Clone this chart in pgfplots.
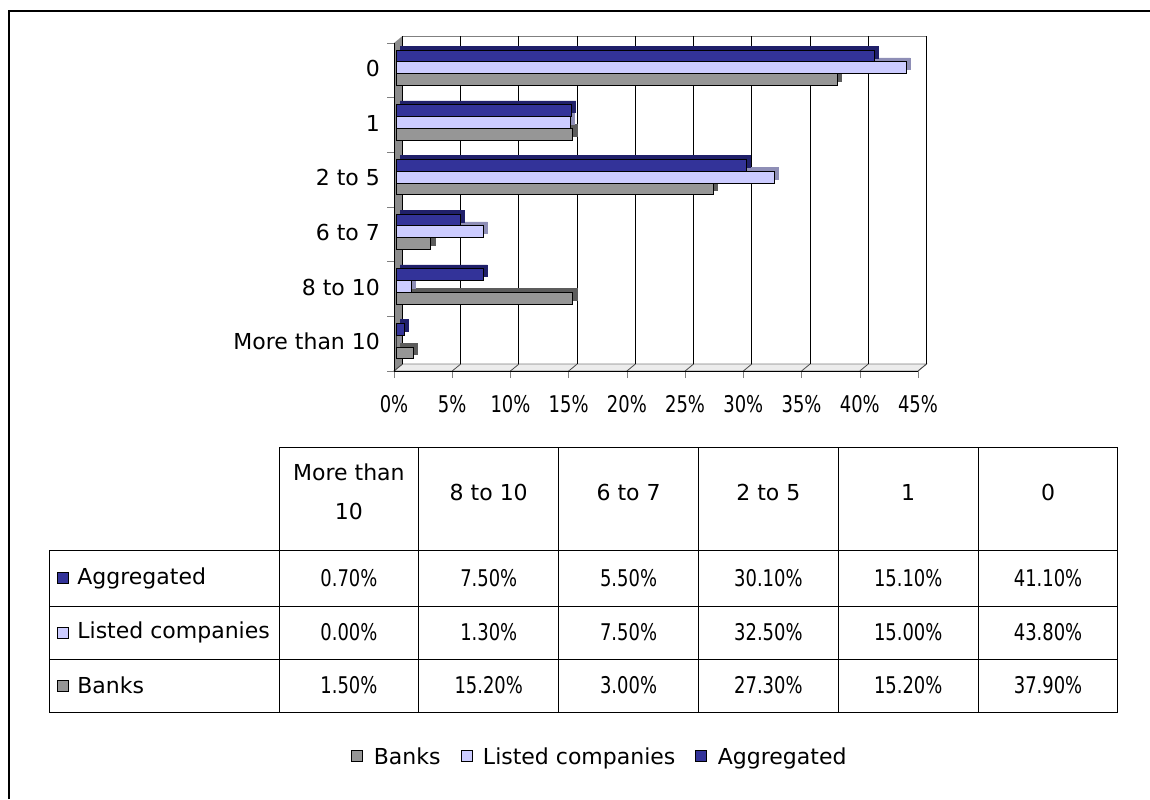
\documentclass[border=0pt]{standalone}
\usepackage{pgfplots}
\pgfplotsset{compat=1.18}
\usepackage{pgfplotstable}
\usepackage{fontspec}
\setmainfont{DejaVu Sans}
\newfontfamily\numfont{DejaVu Sans}[FakeStretch=0.78]

\definecolor{aggcol}{HTML}{333399}
\definecolor{aggside}{HTML}{20206A}
\definecolor{lstcol}{HTML}{CCCCFF}
\definecolor{lstside}{HTML}{8E8EB6}
\definecolor{bnkcol}{HTML}{969696}
\definecolor{bnkside}{HTML}{5C5C5C}
\definecolor{wallgray}{HTML}{8C8C8C}

% share of respondents per category
% pos: 0 = More than 10, 1 = 8 to 10, 2 = 6 to 7, 3 = 2 to 5, 4 = 1, 5 = 0
\pgfplotstableread{
pos agg listed banks
0 0.7 0.0 1.5
1 7.5 1.3 15.2
2 5.5 7.5 3.0
3 30.1 32.5 27.3
4 15.1 15.0 15.2
5 41.1 43.8 37.9
}\shares

\newcommand\txt{\fontsize{11}{13}\selectfont}
\newcommand\num{\numfont\fontsize{11.5}{13}\selectfont}

\pgfplotsset{
  sq/.style={legend image code/.code={%
    \draw[fill=#1,draw=black,line width=0.4pt] (0pt,-2.75pt) rectangle (5.5pt,2.75pt);
    \path[draw=none,fill=none] (0pt,0pt) rectangle (9pt,0.1pt);}},
}

\begin{document}
\begin{tikzpicture}
\begin{scope}[x=0.5pt,y=-0.5pt]
  \useasboundingbox (0,0) rectangle (1150,799);
  \draw[line width=1.2pt] (9,799) -- (9,11) -- (1150,11);
  % side wall, floor and back wall outline
  \fill[wallgray] (394,43) -- (402.5,36) -- (402.5,364) -- (394,371) -- cycle;
  \filldraw[fill=gray!15, draw=gray] (394,371) -- (402.5,364) -- (926.5,364) -- (918,371) -- cycle;
  \draw[gray] (402.5,36) -- (926.5,36) -- (926.5,364);
  \foreach \k in {0,...,9} \draw[black!70] (394+58.222*\k,371) -- ++(8.5,-7);
\end{scope}

\begin{axis}[
  at={(197pt,-185.5pt)}, anchor=south west,
  scale only axis, width=262pt, height=164pt,
  xmin=0, xmax=45, ymin=-0.5, ymax=5.5,
  clip=false,
  axis lines*=left,
  axis line style={line width=0.5pt},
  tick align=outside, major tick length=3.5pt,
  xtick={0,5,...,45},
  xticklabels={0\%,5\%,10\%,15\%,20\%,25\%,30\%,35\%,40\%,45\%},
  xticklabel style={font=\num, yshift=-5pt},
  ytick={-0.5,0.5,...,5.5}, yticklabels={},
  extra y ticks={0,1,2,3,4,5},
  extra y tick labels={More than 10,8 to 10,6 to 7,2 to 5,1,0},
  extra y tick style={tick style={draw=none}, yticklabel style={font=\txt, yshift=1pt}},
  xmajorgrids,
  major grid style={black, line width=0.5pt, xshift=4.25pt, yshift=3.5pt},
  xbar, bar width=5.85pt,
  legend style={at={(0.395,-1.18)}, anchor=center, draw=none, fill=none,
    legend columns=-1, font=\txt,
    /tikz/every even column/.append style={column sep=8pt}},
]
  % Banks
  \addplot[forget plot, fill=bnkside, draw=bnkside, bar shift=-5.85pt, xshift=3pt, yshift=3.25pt]
    table[x=banks, y=pos]{\shares};
  \addplot[sq=bnkcol, fill=bnkcol, draw=black, line width=0.5pt, bar shift=-5.85pt, xshift=1pt, yshift=1.25pt]
    table[x=banks, y=pos]{\shares};
  \addlegendentry{Banks}
  % Listed companies
  \addplot[forget plot, fill=lstside, draw=lstside, bar shift=0pt, xshift=3pt, yshift=3.25pt]
    table[x=listed, y=pos]{\shares};
  \addplot[sq=lstcol, fill=lstcol, draw=black, line width=0.5pt, bar shift=0pt, xshift=1pt, yshift=1.25pt]
    table[x=listed, y=pos]{\shares};
  \addlegendentry{Listed companies}
  % Aggregated
  \addplot[forget plot, fill=aggside, draw=aggside, bar shift=5.85pt, xshift=3pt, yshift=3.25pt]
    table[x=agg, y=pos]{\shares};
  \addplot[sq=aggcol, fill=aggcol, draw=black, line width=0.5pt, bar shift=5.85pt, xshift=1pt, yshift=1.25pt]
    table[x=agg, y=pos]{\shares};
  \addlegendentry{Aggregated}
\end{axis}

\begin{scope}[x=0.5pt,y=-0.5pt]
  % data table
  \draw[line width=0.5pt] (279,447) -- (1118,447);
  \foreach \y in {550,606,659,712} \draw[line width=0.5pt] (49,\y) -- (1118,\y);
  \draw[line width=0.5pt] (49,550) -- (49,712);
  \foreach \k in {0,...,6} \draw[line width=0.5pt] (279+139.83*\k,447) -- (279+139.83*\k,712);
  \node[font=\fontsize{11}{19.5}\selectfont, align=center] at (348.9,492) {More than\\10};
  \foreach \k/\lab in {1/8 to 10,2/6 to 7,3/2 to 5,4/1,5/0}
    \node[font=\txt] at (279+139.83*\k+69.9,492) {\lab};
  \foreach \y/\c/\lab in {578/aggcol/Aggregated,632.5/lstcol/Listed companies,685.5/bnkcol/Banks} {
    \filldraw[fill=\c, draw=black, line width=0.4pt] (57,\y-5.5) rectangle (68,\y+5.5);
    \node[font=\txt, anchor=west, inner sep=0pt] at (77,\y) {\lab};
  }
  \foreach \k in {0,...,5} {
    \pgfmathsetmacro\cx{279+139.83*(\k+0.5)}
    \pgfplotstablegetelem{\k}{agg}\of\shares
    \node[font=\num] at (\cx,578) {\pgfmathprintnumber[assume math mode=true,fixed,fixed zerofill,precision=2]{\pgfplotsretval}\%};
    \pgfplotstablegetelem{\k}{listed}\of\shares
    \node[font=\num] at (\cx,632.5) {\pgfmathprintnumber[assume math mode=true,fixed,fixed zerofill,precision=2]{\pgfplotsretval}\%};
    \pgfplotstablegetelem{\k}{banks}\of\shares
    \node[font=\num] at (\cx,685.5) {\pgfmathprintnumber[assume math mode=true,fixed,fixed zerofill,precision=2]{\pgfplotsretval}\%};
  }
\end{scope}
\end{tikzpicture}
\end{document}
